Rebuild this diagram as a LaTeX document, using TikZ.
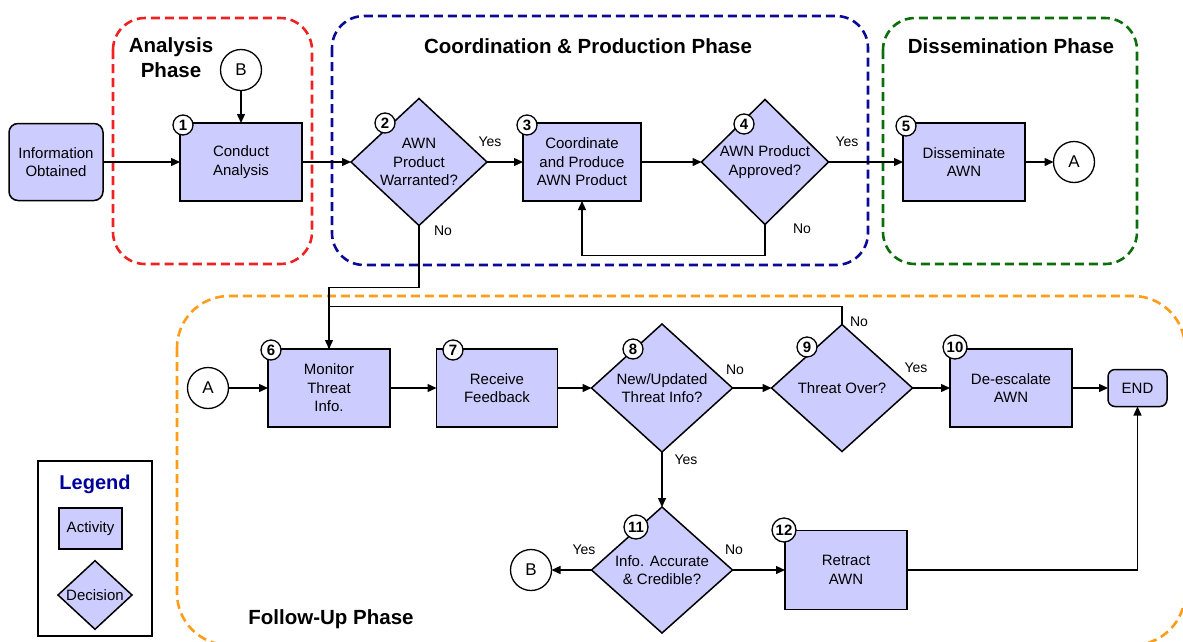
\documentclass[tikz,border=0pt]{standalone}
\usepackage{fontspec}
\setmainfont{Liberation Sans}
\usetikzlibrary{shapes.geometric,arrows.meta}
\definecolor{actfill}{HTML}{CCCCFF}
\definecolor{phred}{HTML}{EE2222}
\definecolor{phblue}{HTML}{0A0A96}
\definecolor{phgreen}{HTML}{0B6E0B}
\definecolor{phorange}{HTML}{FF9D1A}
\definecolor{legblue}{HTML}{00009C}

\begin{document}
\begin{tikzpicture}[x=1pt,y=-1pt,
  every node/.style={inner sep=0pt, outer sep=0pt},
  txt/.style={font=\fontsize{15}{18.5}\selectfont, align=center},
  activity/.style={txt, draw, line width=1.5pt, fill=actfill, minimum width=122, minimum height=78},
  decision/.style={txt, draw, line width=1.5pt, fill=actfill, shape=diamond, aspect=1},
  stepnum/.style={circle, draw, fill=white, line width=1.3pt, minimum size=20, font=\fontsize{15}{15}\selectfont\bfseries},
  connector/.style={circle, draw, fill=white, line width=1.3pt, minimum size=41, font=\fontsize{17}{17}\selectfont},
  flow/.style={line width=1.4pt, -{Triangle[length=9pt,width=8pt]}},
  link/.style={line width=1.4pt},
  phase/.style={line width=2.6pt, dash pattern=on 9pt off 5pt, rounded corners=32pt},
  phasetitle/.style={font=\fontsize{20.5}{25}\selectfont\bfseries, align=center},
  answer/.style={font=\fontsize{14}{14}\selectfont},
]
\useasboundingbox (0,0) rectangle (1183,641);
\clip (0,0) rectangle (1183,641);

% phase frames
\draw[phase, phred] (113,18) rectangle (312,264);
\draw[phase, phblue] (332,16) rectangle (868,265);
\draw[phase, phgreen] (883,18) rectangle (1137,264);
\draw[phase, phorange, rounded corners=52pt] (177,296) rectangle (1185,645);

\node[phasetitle] (tanalysis) at (171,58) {Analysis\\Phase};
\node[phasetitle] (tcoord) at (588,46) {Coordination \& Production Phase};
\node[phasetitle] (tdiss) at (1011,46) {Dissemination Phase};
\node[phasetitle] (tfollow) at (331,619) {Follow-Up Phase};

% top row
\node[activity, rounded corners=9pt, minimum width=94, minimum height=77] (info) at (56,162) {Information\\Obtained};
\node[connector] (Btop) at (241,70) {B};
\node[activity] (conduct) at (241,162) {Conduct\\Analysis};
\node[decision, minimum width=136, minimum height=127] (warranted) at (419,162) {AWN\\Product\\Warranted?};
\node[activity, minimum width=118] (produce) at (582,162) {Coordinate\\and Produce\\AWN Product};
\node[decision, minimum width=127, minimum height=125] (approved) at (765,162) {AWN Product\\Approved?};
\node[activity] (dissem) at (964,162) {Disseminate\\AWN};
\node[connector] (Atop) at (1074,162) {A};

% follow-up
\node[connector] (Aleft) at (208,388) {A};
\node[activity] (monitor) at (329,388) {Monitor\\Threat\\Info.};
\node[activity, minimum width=121] (feedback) at (497,388) {Receive\\Feedback};
\node[decision, minimum width=141, minimum height=128] (newinfo) at (662,388) {New/Updated\\Threat Info?};
\node[decision, minimum width=141, minimum height=127] (over) at (842,388) {Threat Over?};
\node[activity] (deesc) at (1011,388) {De-escalate\\AWN};
\node[activity, rounded corners=7pt, minimum width=59, minimum height=37] (end) at (1137.5,388) {END};
\node[decision, minimum width=141, minimum height=126] (accurate) at (662,570) {Info. Accurate\\\& Credible?};
\node[connector] (Bbottom) at (531,570) {B};
\node[activity, minimum height=79] (retract) at (846,570) {Retract\\AWN};

% step numbers
\node[stepnum] (n1) at (183,125) {1};
\node[stepnum] (n2) at (385,123) {2};
\node[stepnum] (n3) at (527,125) {3};
\node[stepnum] (n4) at (744,124) {4};
\node[stepnum] (n5) at (906,126) {5};
\node[stepnum] (n6) at (271,350) {6};
\node[stepnum] (n7) at (453,350) {7};
\node[stepnum] (n8) at (633,349) {8};
\node[stepnum] (n9) at (807,347) {9};
\node[stepnum, minimum size=24] (n10) at (955,347) {10};
\node[stepnum, minimum size=24] (n11) at (636,527) {11};
\node[stepnum, minimum size=24] (n12) at (784,530) {12};

% connectors
\draw[flow] (info.east) -- (conduct.west);
\draw[flow] (Btop) -- (conduct);
\draw[flow] (conduct.east) -- (warranted.west);
\draw[flow] (warranted.east) -- (produce.west);
\draw[flow] (produce.east) -- (approved.west);
\draw[flow] (approved.east) -- (dissem.west);
\draw[flow] (dissem.east) -- (Atop.west);
\draw[flow] (approved.south) -- ++(0,31) -| (produce.south);
\draw[link] (over.north) -- ++(0,-18) -| (monitor.north);
\draw[flow] (warranted.south) -- ++(0,62) -| (monitor.north);
\draw[flow] (Aleft.east) -- (monitor.west);
\draw[flow] (monitor.east) -- (feedback.west);
\draw[flow] (feedback.east) -- (newinfo.west);
\draw[flow] (newinfo.east) -- (over.west);
\draw[flow] (over.east) -- (deesc.west);
\draw[flow] (deesc.east) -- (end.west);
\draw[flow] (newinfo.south) -- (accurate.north);
\draw[flow] (accurate.west) -- (Bbottom.east);
\draw[flow] (accurate.east) -- (retract.west);
\draw[flow] (retract.east) -| (end.south);

% branch labels
\node[answer] (y2) at (490,142) {Yes};
\node[answer] (no2) at (443,231) {No};
\node[answer] (y4) at (847,142) {Yes};
\node[answer] (no4) at (802,229) {No};
\node[answer] (no8) at (735,370) {No};
\node[answer] (y8) at (686,460) {Yes};
\node[answer] (no9) at (859,322) {No};
\node[answer] (y9) at (916,368) {Yes};
\node[answer] (y11) at (584,550) {Yes};
\node[answer] (no11) at (734,550) {No};

% legend
\node[draw, line width=1.5pt, minimum width=114, minimum height=175] (legend) at (95,548.5) {};
\node[font=\fontsize{20}{20}\selectfont\bfseries, text=legblue] (legtitle) at (95,484) {Legend};
\node[activity, minimum width=63, minimum height=41, font=\fontsize{15}{16}\selectfont] (legact) at (90.5,528.5) {Activity};
\node[decision, minimum width=74, minimum height=62, font=\fontsize{15}{16}\selectfont] (legdec) at (95,595) {Decision};
\end{tikzpicture}
\end{document}
